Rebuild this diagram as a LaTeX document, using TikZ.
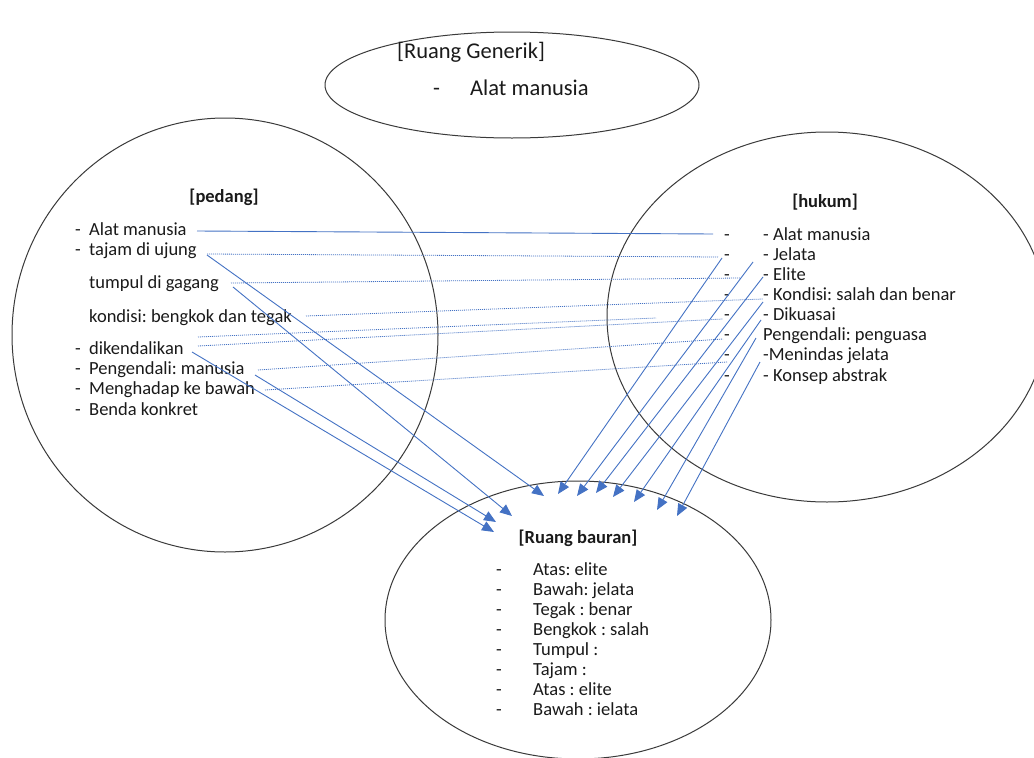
\documentclass[tikz,border=0pt]{standalone}
\usepackage{fontspec}
\setmainfont{Carlito}
\usetikzlibrary{arrows.meta,shapes.geometric}
\definecolor{ob}{HTML}{4472C4}
\definecolor{ringc}{HTML}{3A3A3A}
\definecolor{txtc}{HTML}{1A1A1A}
\frenchspacing
\begin{document}
\begin{tikzpicture}[x=1pt,y=-1pt,
  ring/.style={ellipse, draw=ringc, line width=1pt, inner sep=0pt},
  txt/.style={anchor=base west, inner sep=0pt, text=txtc, font=\fontsize{18.5}{22}\selectfont},
  big/.style={anchor=base west, inner sep=0pt, text=txtc, font=\fontsize{22.5}{26}\selectfont},
  hd/.style={anchor=base, inner sep=0pt, text=txtc, font=\fontsize{18.5}{22}\selectfont\bfseries},
  link/.style={draw=ob, line width=0.9pt},
  dotlink/.style={draw=ob, line width=0.8pt, dash pattern=on 1pt off 1pt},
  arr/.style={draw=ob, line width=0.9pt, -{Triangle[length=12pt,width=10pt]}}
]
\useasboundingbox (0,0) rectangle (1034,758);
\fill[white] (0,0) rectangle (1034,758);

% ellipses
\node[ring, minimum width=374pt, minimum height=106pt] (gen) at (512,85) {};
\node[ring, minimum width=426pt, minimum height=434pt] (ped) at (225,335) {};
\node[ring, minimum width=440pt, minimum height=370pt] (huk) at (827,317) {};
\node[ring, minimum width=386pt, minimum height=278pt] (bau) at (578,620) {};

% top text
\node[big] (g0) at (397,58) {[Ruang Generik]};
\node[big] (g1d) at (433,95) {-};
\node[big] (g1) at (470,95) {Alat manusia};

% pedang
\node[hd] (p0) at (224,202) {[pedang]};
\node[txt] (p1d) at (75,235) {-};
\node[txt] (p1) at (89,235) {Alat manusia};
\node[txt] (p2d) at (75,255) {-};
\node[txt] (p2) at (89,255) {tajam di ujung};
\node[txt] (p3) at (89,288) {tumpul di gagang};
\node[txt] (p4) at (89,322) {kondisi: bengkok dan tegak};
\node[txt] (p5d) at (75,354) {-};
\node[txt] (p5) at (89,354) {dikendalikan};
\node[txt] (p6d) at (75,374) {-};
\node[txt] (p6) at (89,374) {Pengendali: manusia};
\node[txt] (p7d) at (75,394) {-};
\node[txt] (p7) at (89,394) {Menghadap ke bawah};
\node[txt] (p8d) at (75,415) {-};
\node[txt] (p8) at (89,415) {Benda konkret};

% hukum
\node[hd] (h0) at (825,207) {[hukum]};
\foreach \i/\y in {1/240,2/260,3/280,4/300,5/320,6/340,7/360,8/381}{
  \node[txt] (hd\i) at (724,\y) {-};
}
\node[txt] (h1) at (763,240) {- Alat manusia};
\node[txt] (h2) at (763,260) {- Jelata};
\node[txt] (h3) at (763,280) {- Elite};
\node[txt] (h4) at (763,300) {- Kondisi: salah dan benar};
\node[txt] (h5) at (763,320) {- Dikuasai};
\node[txt] (h6) at (763,340) {Pengendali: penguasa};
\node[txt] (h7) at (763,360) {-Menindas jelata};
\node[txt] (h8) at (763,381) {- Konsep abstrak};

% bauran
\node[hd] (b0) at (578,543) {[Ruang bauran]};
\foreach \i/\y/\t in {1/575/{Atas: elite},2/595/{Bawah: jelata},3/615/{Tegak : benar},4/635/{Bengkok : salah},5/655/{Tumpul :},6/675/{Tajam :},7/695/{Atas : elite},8/715/{Bawah : ielata}}{
  \node[txt] (bd\i) at (496,\y) {-};
  \node[txt] (b\i) at (533,\y) {\t};
}

% connector ends
\coordinate (a1s) at (197,231); \coordinate (a1e) at (713,234);
\coordinate (d1s) at (207,254); \coordinate (d1e) at (718,257);
\coordinate (d2s) at (231,283); \coordinate (d2e) at (740,278);
\coordinate (d3s) at (306,316); \coordinate (d3e) at (763,299);
\coordinate (d4s) at (198,337); \coordinate (d4e) at (656,318);
\coordinate (d5s) at (198,346); \coordinate (d5e) at (723,319);
\coordinate (d6s) at (258,370); \coordinate (d6e) at (723,339);
\coordinate (d7s) at (265,390); \coordinate (d7e) at (727,362);

\coordinate (l1s) at (207,255); \coordinate (l1e) at (544,496);
\coordinate (l2s) at (233,287); \coordinate (l2e) at (512,516);
\coordinate (l3s) at (192,352); \coordinate (l3e) at (494,532);
\coordinate (l4s) at (255,375); \coordinate (l4e) at (496,522);

\coordinate (r1s) at (722,258); \coordinate (r1e) at (558,494);
\coordinate (r2s) at (753,262); \coordinate (r2e) at (577,496);
\coordinate (r3s) at (763,277); \coordinate (r3e) at (596,493);
\coordinate (r4s) at (763,302); \coordinate (r4e) at (613,497);
\coordinate (r5s) at (761,320); \coordinate (r5e) at (634,502);
\coordinate (r6s) at (756,338); \coordinate (r6e) at (657,510);
\coordinate (r7s) at (760,362); \coordinate (r7e) at (677,516);

% connectors
\draw[link] (a1s) -- (a1e);
\foreach \k in {1,...,7}{ \draw[dotlink] (d\k s) -- (d\k e); }
\foreach \k in {1,...,4}{ \draw[arr] (l\k s) -- (l\k e); }
\foreach \k in {1,...,7}{ \draw[arr] (r\k s) -- (r\k e); }
\end{tikzpicture}
\end{document}
